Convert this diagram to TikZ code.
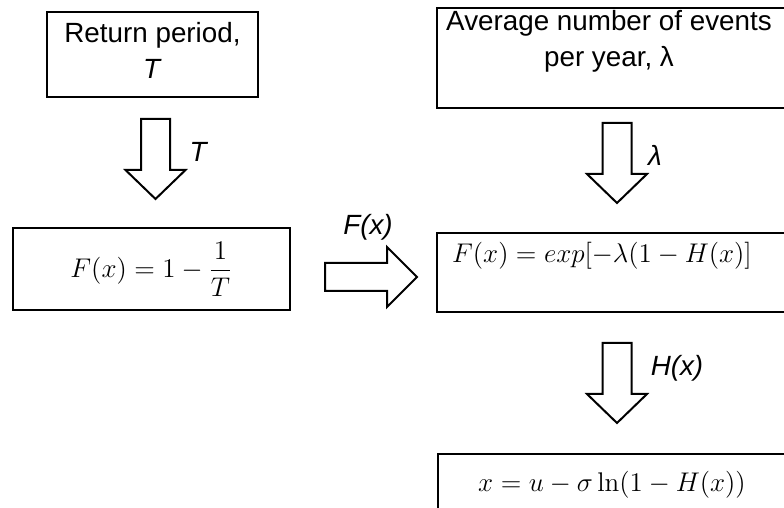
\RequirePackage{fix-cm}
\documentclass[tikz,border=0pt]{standalone}
\usepackage{amsmath}
\usepackage[no-math]{fontspec}
\setmainfont{Liberation Sans}
\usetikzlibrary{positioning}

\begin{document}
\begin{tikzpicture}[x=0.5pt,y=-0.5pt,line width=1pt,
  font=\fontsize{13.9}{18}\selectfont,
  box/.style={draw,minimum width=176.5pt,minimum height=#1,inner sep=0pt},
  btext/.style={align=center,inner sep=0pt},
  mtext/.style={inner sep=0pt,font=\fontsize{13.5}{18}\selectfont},
  blockarrow/.style={draw,line join=miter,fill=white},
  lbl/.style={font=\fontsize{13.9}{18}\selectfont\itshape,inner sep=0pt}]
  \useasboundingbox (0,0) rectangle (784,508);
  % Left column
  \node[box=42.5pt,minimum width=105.5pt] (retbox) at (152.5,54.5) {};
  \node[btext] (ret) at (152.5,50) {Return period,\\ \textit{T}};
  \node[box=41pt,minimum width=138.5pt,font=\fontsize{13.5}{18}\selectfont] (fone) at (151.5,269) {$F(x)=1-\dfrac{1}{T}$};
  % Right column
  \node[box=50pt] (avgbox) at (613.5,58) {};
  \node[btext] (avg) at (609,41) {Average number of events\\ per year, λ};
  \node[box=39.5pt] (fexpbox) at (613.5,272.5) {};
  \node[mtext] (fexp) at (602,256) {$F(x)=exp[-\lambda(1-H(x)]$};
  \node[box=60pt] (gpdbox) at (614,514) {};
  \node[mtext] (gpd) at (612,485) {$x=u-\sigma\ln(1-H(x))$};
  % Down block arrows
  \foreach \cx/\ty in {155.5/119, 617/123, 617/343}{
    \draw[blockarrow] (\cx-14.5,\ty) -- (\cx+14.5,\ty) -- (\cx+14.5,\ty+51)
      -- (\cx+30,\ty+51) -- (\cx,\ty+80) -- (\cx-30,\ty+51) -- (\cx-14.5,\ty+51) -- cycle;
  }
  % Right block arrow
  \draw[blockarrow] (325,263) -- (387,263) -- (387,247) -- (417,277) -- (387,307)
    -- (387,291) -- (325,291) -- cycle;
  % Arrow labels
  \node[lbl] (lT) at (198,152) {T};
  \node[lbl] (llam) at (655,155) {λ};
  \node[lbl] (lH) at (677,368) {H(x)};
  \node[lbl] (lF) at (368,227) {F(x)};
\end{tikzpicture}
\end{document}
